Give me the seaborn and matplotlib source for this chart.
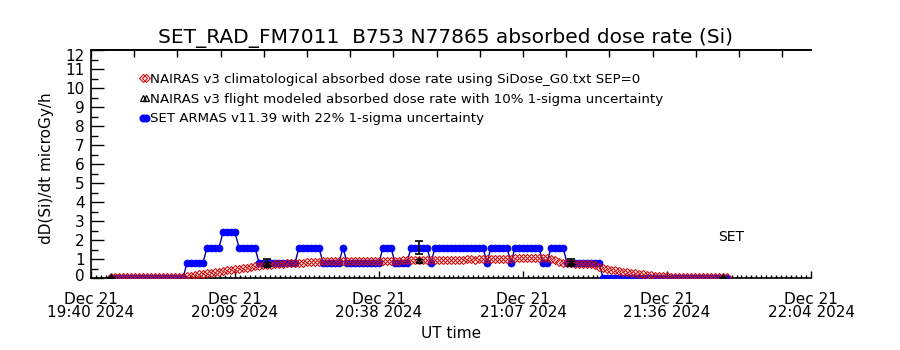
import numpy as np
import pandas as pd
import matplotlib
matplotlib.use("Agg")
import matplotlib.pyplot as plt
import matplotlib.transforms as mtransforms
from matplotlib.lines import Line2D
from matplotlib.ticker import FixedLocator, AutoMinorLocator, MultipleLocator
import seaborn as sns

sns.set_style("white")
plt.rcParams["font.family"] = ["DejaVu Sans"]
for k in ["text.color", "axes.labelcolor", "xtick.color", "ytick.color", "axes.edgecolor"]:
    plt.rcParams[k] = "black"

# ---------------- data ----------------
title = "SET_RAD_FM7011  B753 N77865 absorbed dose rate (Si)"
start_min = 4.0      # first sample, minutes after 19:40:24 UT
cadence_min = 0.8    # sample cadence, minutes

set_armas = [
    0, 0, 0, 0, 0, 0, 0, 0, 0, 0, 0, 0, 0, 0, 0, 0, 0, 0, 0,
    0.8, 0.8, 0.8, 0.8, 0.8,
    1.6, 1.6, 1.6, 1.6,
    2.4, 2.4, 2.4, 2.4,
    1.6, 1.6, 1.6, 1.6, 1.6,
    0.8, 0.8, 0.8, 0.8, 0.8, 0.8, 0.8, 0.8, 0.8, 0.8,
    1.6, 1.6, 1.6, 1.6, 1.6, 1.6,
    0.8, 0.8, 0.8, 0.8, 0.8,
    1.6,
    0.8, 0.8, 0.8, 0.8, 0.8, 0.8, 0.8, 0.8, 0.8,
    1.6, 1.6, 1.6,
    0.8, 0.8, 0.8, 0.8,
    1.6, 1.6, 1.6, 1.6, 1.6,
    0.8,
    1.6, 1.6, 1.6, 1.6, 1.6, 1.6, 1.6, 1.6, 1.6, 1.6, 1.6, 1.6, 1.6,
    0.8,
    1.6, 1.6, 1.6, 1.6, 1.6,
    0.8,
    1.6, 1.6, 1.6, 1.6, 1.6, 1.6, 1.6,
    0.8, 0.8,
    1.6, 1.6, 1.6, 1.6,
    0.8, 0.8, 0.8, 0.8, 0.8, 0.8, 0.8, 0.8, 0.8,
    0, 0, 0, 0, 0, 0, 0, 0, 0, 0, 0, 0, 0, 0, 0, 0,
    0, 0, 0, 0, 0, 0, 0, 0, 0, 0, 0, 0, 0, 0, 0, 0,
]

nairas_clim = [
    0.05, 0.05, 0.05, 0.05, 0.05, 0.05, 0.05, 0.05, 0.05, 0.05,
    0.05, 0.05, 0.05, 0.05, 0.05, 0.05, 0.05, 0.05, 0.06,
    0.10, 0.13, 0.16, 0.19, 0.22, 0.25, 0.28, 0.31, 0.34, 0.37,
    0.40, 0.43, 0.46, 0.49, 0.52, 0.55, 0.58, 0.61, 0.64, 0.66,
    0.68, 0.70, 0.72, 0.74, 0.76, 0.77, 0.78, 0.79,
    0.80, 0.81, 0.82, 0.83, 0.84, 0.86, 0.88, 0.90, 0.88, 0.87, 0.88,
    0.88, 0.90, 0.89, 0.88, 0.90, 0.90, 0.89, 0.88, 0.90, 0.91,
    0.90, 0.89, 0.90, 0.91, 0.92, 0.93, 0.93,
    0.94, 0.95, 0.95, 0.94, 0.95, 0.95, 0.96, 0.96, 0.95, 0.96,
    0.97, 0.97, 0.96, 0.97, 0.98, 0.98, 0.97, 0.98, 0.99,
    1.00, 1.00, 1.01, 1.00, 1.01, 1.02, 1.02,
    1.03, 1.04, 1.03, 1.04, 1.05, 1.04, 1.05, 1.04, 1.03, 1.00,
    0.95,
    0.82, 0.80, 0.78, 0.77, 0.76, 0.75, 0.74, 0.73, 0.72,
    0.68, 0.60,
    0.55, 0.48, 0.44, 0.40, 0.37, 0.34, 0.31, 0.28, 0.25, 0.22,
    0.20, 0.17, 0.15, 0.13, 0.11, 0.10, 0.08, 0.07, 0.06,
    0.05, 0.05, 0.05, 0.05, 0.05, 0.05, 0.05, 0.05, 0.05, 0.05,
    0.05, 0.05, 0.05,
]

errbar_index = [0, 39, 77, 115, 153]
nairas_flight = [0.03, 0.75, 0.93, 0.80, 0.03]
set_rel_err = 0.22
nairas_rel_err = 0.10

xtick_minutes = [0, 28.8, 57.6, 86.4, 115.2, 144.0]
xtick_labels = ["Dec 21\n19:40 2024", "Dec 21\n20:09 2024", "Dec 21\n20:38 2024",
                "Dec 21\n21:07 2024", "Dec 21\n21:36 2024", "Dec 21\n22:04 2024"]
ytick_values = list(range(0, 13))

legend_labels = [
    "NAIRAS v3 climatological absorbed dose rate using SiDose_G0.txt SEP=0",
    "NAIRAS v3 flight modeled absorbed dose rate with 10% 1-sigma uncertainty",
    "SET ARMAS v11.39 with 22% 1-sigma uncertainty",
]

# ---------------- frame ----------------
n = len(set_armas)
minutes = start_min + cadence_min * np.arange(n)
df = pd.DataFrame({"minute": minutes, "set": set_armas, "clim": nairas_clim})
ebx = df["minute"].values[errbar_index]
eby = df["set"].values[errbar_index]

W, H = 900, 350
fig = plt.figure(figsize=(9, 3.5), dpi=100)
L, R, T, B = 91, 811, 50, 278
ax = fig.add_axes([L / W, 1 - B / H, (R - L) / W, (B - T) / H])

BLUE = "#0000ff"
NAVY = "#0000a0"
RED = "#d01010"

sns.lineplot(data=df, x="minute", y="set", ax=ax, color=NAVY, lw=1.0,
             marker="o", markersize=4.8, markerfacecolor=BLUE,
             markeredgecolor=BLUE, estimator=None, sort=False, zorder=3)
ax.errorbar(ebx, eby, yerr=eby * set_rel_err, fmt="none", ecolor="black",
            elinewidth=1.2, capsize=3.2, capthick=1.2, zorder=5)
ax.errorbar(ebx, nairas_flight, yerr=np.array(nairas_flight) * nairas_rel_err,
            fmt="^", color="black", mfc="none", ms=4, mew=0.9,
            elinewidth=1.0, capsize=3.2, capthick=1.0, zorder=5)
sns.lineplot(data=df, x="minute", y="clim", ax=ax, linestyle="", lw=0,
             marker="D", markersize=3.7, markerfacecolor="none",
             markeredgecolor=RED, markeredgewidth=0.8,
             estimator=None, sort=False, zorder=4)

ax.set_xlim(0, 144)
ax.set_ylim(0, 12)
ax.set_xlabel("")
ax.set_ylabel("")
ax.grid(False)
for s in ["left", "bottom", "top"]:
    ax.spines[s].set_color("black")
    ax.spines[s].set_linewidth(1.2)
ax.spines["right"].set_visible(False)

ax.xaxis.set_major_locator(FixedLocator(xtick_minutes))
ax.set_xticklabels(xtick_labels, fontsize=11, linespacing=0.85)
ax.xaxis.set_minor_locator(AutoMinorLocator(29))
ax.tick_params(axis="x", which="major", direction="in", length=5, width=1,
               pad=10, bottom=True, top=False)
ax.tick_params(axis="x", which="minor", direction="in", length=2.5, width=1,
               bottom=True, top=False)

ax.yaxis.set_major_locator(FixedLocator(ytick_values))
ax.set_yticklabels([str(v) for v in ytick_values], fontsize=11)
ax.yaxis.set_minor_locator(MultipleLocator(0.5))
ax.tick_params(axis="y", which="major", direction="in", length=9.5, width=1,
               pad=4.5, left=True, right=False)
ax.tick_params(axis="y", which="minor", direction="in", length=5, width=1,
               left=True, right=False)
ylabels = ax.get_yticklabels()
ylabels[-1].set_transform(ylabels[-1].get_transform() +
                          mtransforms.ScaledTranslation(0, -5 / 100, fig.dpi_scale_trans))
ylabels[0].set_transform(ylabels[0].get_transform() +
                         mtransforms.ScaledTranslation(0, 3 / 100, fig.dpi_scale_trans))

top = ax.secondary_xaxis("top")
top.set_xticks(np.arange(0, 144.01, 8.64))
top.set_xticklabels([])
top.tick_params(direction="in", length=5, width=1)
top.spines["top"].set_linewidth(1.2)

ax.text(128, 2.16, "SET", fontsize=10, ha="center", va="center")

fig.text(445 / W, 1 - 38 / H, title, fontsize=14.5, ha="center", va="center")
fig.text(47 / W, 1 - 168 / H, "dD(Si)/dt microGy/h", fontsize=11,
         rotation=90, ha="center", va="center")
fig.text(451 / W, 1 - 333 / H, "UT time", fontsize=11, ha="center", va="center")

handles = [
    Line2D([], [], linestyle="", marker="D", ms=3.7, mfc="none", mec=RED, mew=0.8),
    Line2D([], [], linestyle="", marker="^", ms=4, mfc="none", mec="black", mew=0.9),
    Line2D([], [], color=NAVY, lw=1, marker="o", ms=4.8, mfc=BLUE, mec=BLUE),
]
ax.legend(handles, legend_labels, loc="upper left",
          bbox_to_anchor=(139 / W, 1 - 73 / H), bbox_transform=fig.transFigure,
          frameon=False, fontsize=9.6, numpoints=2, handlelength=0.8,
          handletextpad=0.05, labelspacing=0.5, borderpad=0, borderaxespad=0)

fig.savefig("out.png", dpi=100)
